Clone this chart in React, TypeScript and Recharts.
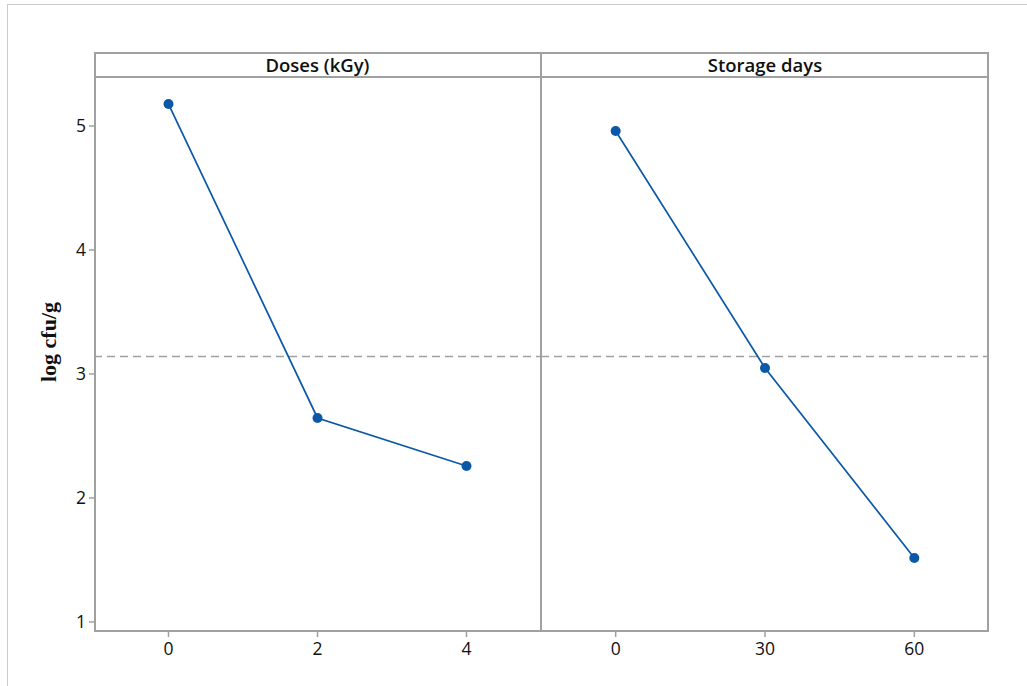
import React from 'react';
import { LineChart, Line, XAxis, YAxis, ReferenceLine } from 'recharts';

const doseLevels = [0, 2, 4];
const doseMeans = [5.177, 2.645, 2.258];
const storageDays = [0, 30, 60];
const storageMeans = [4.96, 3.048, 1.516];
const yTicks = [1, 2, 3, 4, 5];
const doseTicks = [0, 2, 4];
const storageTicks = [0, 30, 60];
const grandMean = 3.14;
const panelTitles = ['Doses (kGy)', 'Storage days'];
const yAxisTitle = 'log cfu/g';

const doseData = doseLevels.map((x, i) => ({ x, y: doseMeans[i] }));
const storageData = storageDays.map((x, i) => ({ x, y: storageMeans[i] }));

const LINE = '#0B58A8';
const FRAME = '#A0A0A0';
const FONT = '"Open Sans", "Noto Sans", sans-serif';
const Y_DOMAIN: [number, number] = [0.919, 5.395];

const tickStyle = { fill: '#111', fontSize: 17.5, fontFamily: FONT };

export default function App() {
  const line = (data: any) => (
    <Line
      data={data}
      dataKey="y"
      type="linear"
      stroke={LINE}
      strokeWidth={1.7}
      dot={{ r: 5, fill: LINE, stroke: LINE, strokeWidth: 0 }}
      activeDot={false}
      isAnimationActive={false}
    />
  );

  return (
    <div style={{ position: 'fixed', left: 0, top: 0, width: 1027, height: 686, background: '#fff', overflow: 'hidden' }}>
      {/* faint outer border */}
      <div style={{ position: 'absolute', left: 7, top: 4, width: 1030, height: 700, borderTop: '1.5px solid #CBCBCB', borderLeft: '1.5px solid #CBCBCB' }} />

      <div style={{ position: 'absolute', left: 0, top: 0 }}>
        <LineChart width={541} height={686} margin={{ top: 77, right: 0, left: 0, bottom: 0 }} data={doseData}>
          <XAxis
            dataKey="x"
            type="number"
            domain={[-1, 5]}
            ticks={doseTicks}
            allowDataOverflow
            axisLine={false}
            tickLine={{ stroke: FRAME, strokeWidth: 1.5 }}
            tickSize={5}
            tickMargin={6}
            height={54}
            tick={tickStyle}
          />
          <YAxis
            type="number"
            domain={Y_DOMAIN}
            ticks={yTicks}
            allowDataOverflow
            axisLine={false}
            tickLine={{ stroke: FRAME, strokeWidth: 1.5 }}
            tickSize={5}
            tickMargin={3}
            width={94}
            tick={tickStyle}
            label={{
              content: () => (
                <text
                  x={48}
                  y={342}
                  transform="rotate(-90 48 342)"
                  textAnchor="middle"
                  dominantBaseline="central"
                  style={{ fontFamily: '"Liberation Serif", "Times New Roman", serif', fontWeight: 700, fontSize: 22, fill: '#111' }}
                >
                  {yAxisTitle}
                </text>
              ),
            }}
          />
          <ReferenceLine y={grandMean} stroke={FRAME} strokeWidth={1.5} strokeDasharray="8 5" />
          {line(doseData)}
        </LineChart>
      </div>

      <div style={{ position: 'absolute', left: 541, top: 0 }}>
        <LineChart width={486} height={686} margin={{ top: 77, right: 38, left: 0, bottom: 0 }} data={storageData}>
          <XAxis
            dataKey="x"
            type="number"
            domain={[-15, 75]}
            ticks={storageTicks}
            allowDataOverflow
            axisLine={false}
            tickLine={{ stroke: FRAME, strokeWidth: 1.5 }}
            tickSize={5}
            tickMargin={6}
            height={54}
            tick={tickStyle}
          />
          <YAxis type="number" domain={Y_DOMAIN} ticks={yTicks} allowDataOverflow hide width={0} />
          <ReferenceLine y={grandMean} stroke={FRAME} strokeWidth={1.5} strokeDasharray="8 5" />
          {line(storageData)}
        </LineChart>
      </div>

      {/* panel frame */}
      <div style={{ position: 'absolute', left: 94, top: 52, width: 895 - 4, height: 580 - 4, border: `2px solid ${FRAME}`, pointerEvents: 'none' }} />
      <div style={{ position: 'absolute', left: 94, top: 76, width: 895, height: 0, borderTop: `2px solid ${FRAME}` }} />
      <div style={{ position: 'absolute', left: 540, top: 52, width: 0, height: 580, borderLeft: `2px solid ${FRAME}` }} />

      {/* panel titles */}
      <div style={{ position: 'absolute', left: 94, top: 53, width: 447, height: 23, lineHeight: '23px', textAlign: 'center', fontFamily: FONT, fontWeight: 600, fontSize: 18.5, color: '#111' }}>
        {panelTitles[0]}
      </div>
      <div style={{ position: 'absolute', left: 541, top: 53, width: 448, height: 23, lineHeight: '23px', textAlign: 'center', fontFamily: FONT, fontWeight: 600, fontSize: 18.5, color: '#111' }}>
        {panelTitles[1]}
      </div>
    </div>
  );
}
